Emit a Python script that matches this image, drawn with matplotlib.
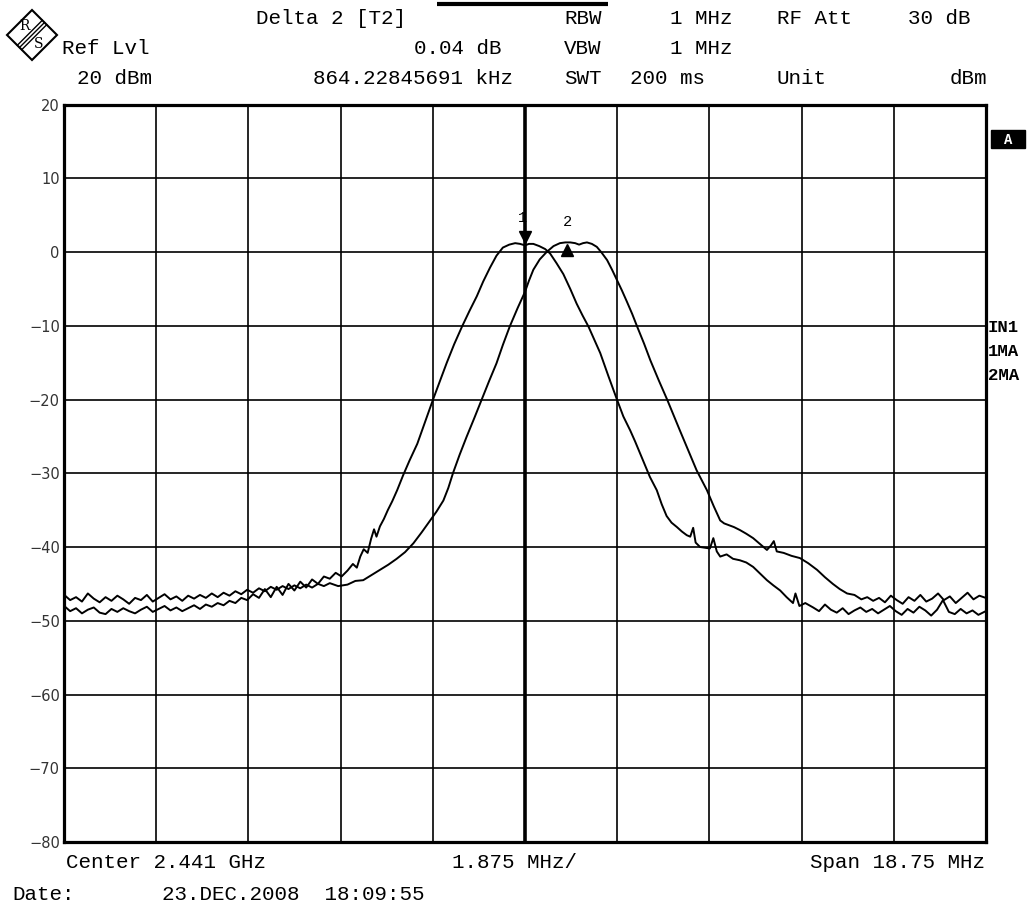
import numpy as np
import matplotlib
matplotlib.use("Agg")
import matplotlib.pyplot as plt
from matplotlib.patches import Polygon, Rectangle
from matplotlib.transforms import offset_copy

# frequency offsets from the 2.441 GHz centre, MHz
floor_left = [-9.37, -9.25, -9.13, -9.01, -8.89, -8.77, -8.65, -8.53, -8.41, -8.29,
              -8.17, -8.05, -7.93, -7.81, -7.69, -7.57, -7.45, -7.33, -7.21, -7.09,
              -6.97, -6.85, -6.73, -6.61, -6.49, -6.37, -6.25, -6.13, -6.01, -5.89,
              -5.77, -5.65, -5.53, -5.41, -5.29, -5.17, -5.05, -4.93, -4.81, -4.69,
              -4.57, -4.45, -4.33, -4.21, -4.09]

# trace 1 (1VIEW)
t1_freq = floor_left + [
    -3.97, -3.85, -3.73, -3.61, -3.50, -3.42, -3.35, -3.28, -3.20, -3.13,
    -3.07, -3.02, -2.95, -2.87, -2.79, -2.70, -2.60, -2.48, -2.35, -2.19,
    -2.03, -1.87, -1.73, -1.59, -1.44, -1.28, -1.13, -0.98, -0.85, -0.71,
    -0.58, -0.45, -0.32, -0.20, -0.10, 0.00, 0.08, 0.17, 0.29, 0.41,
    0.51, 0.64, 0.78, 0.92, 1.05, 1.17, 1.29, 1.41, 1.53, 1.70,
    1.87, 2.00, 2.14, 2.24, 2.34, 2.44, 2.54, 2.61, 2.68, 2.78,
    2.88, 2.98, 3.09, 3.19, 3.29, 3.36, 3.42, 3.47, 3.56, 3.66,
    3.76, 3.83, 3.90, 3.97, 4.10, 4.23, 4.37, 4.50, 4.64, 4.78,
    4.92, 5.05, 5.19, 5.32, 5.45, 5.50, 5.58, 5.70, 5.86,
    5.98, 6.10, 6.22, 6.34, 6.46, 6.58, 6.70, 6.82, 6.94, 7.06,
    7.18, 7.30, 7.42, 7.54, 7.66, 7.78, 7.90, 8.02, 8.14, 8.26,
    8.38, 8.50, 8.62, 8.74, 8.86, 8.98, 9.10, 9.22, 9.37]
t1_level = [
    -48.0, -48.7, -48.3, -49.0, -48.5, -48.2, -48.9, -49.1, -48.4, -48.8,
    -48.3, -48.7, -49.0, -48.5, -48.1, -48.8, -48.4, -48.0, -48.6, -48.2,
    -48.7, -48.3, -47.9, -48.4, -47.8, -48.1, -47.6, -47.9, -47.3, -47.6,
    -46.9, -47.2, -46.4, -46.9, -45.7, -46.8, -45.4, -46.5, -45.0, -45.9,
    -44.7, -45.5, -44.4, -45.0, -44.0,
    -44.3, -43.5, -44.0, -43.2, -42.3, -42.8, -41.3, -40.3, -40.8, -38.9,
    -37.6, -38.6, -37.2, -36.2, -35.0, -33.8, -32.3, -30.3, -28.3, -26.0,
    -23.0, -20.0, -17.5, -15.0, -12.5, -10.1, -8.0, -6.0, -4.0, -2.1,
    -0.5, 0.6, 1.0, 1.2, 1.1, 0.9, 1.1, 1.1, 0.8, 0.4,
    -0.2, -1.5, -3.0, -5.0, -7.0, -8.6, -10.1, -11.9, -13.7, -16.9,
    -20.0, -22.3, -24.2, -25.7, -27.3, -28.9, -30.5, -31.4, -32.3, -34.2,
    -35.8, -36.7, -37.3, -37.9, -38.4, -38.6, -37.4, -39.4, -40.0, -40.1,
    -40.2, -38.8, -40.6, -41.3, -41.0, -41.6, -41.8, -42.1, -42.7, -43.6,
    -44.5, -45.2, -45.9, -46.8, -47.6, -46.3, -48.0, -47.6, -48.2,
    -48.7, -47.8, -48.5, -48.9, -48.3, -49.1, -48.6, -48.2, -48.8, -48.4,
    -49.0, -48.5, -48.0, -48.7, -49.2, -48.4, -48.9, -48.1, -48.6, -49.3,
    -48.5, -47.2, -48.8, -49.1, -48.4, -49.0, -48.6, -49.2, -48.7]

# trace 2 (2MAX)
t2_freq = floor_left + [
    -3.97, -3.80, -3.61, -3.45, -3.29, -3.12, -2.95, -2.78, -2.61, -2.44,
    -2.27, -2.10, -1.93, -1.80, -1.66, -1.56, -1.46, -1.33, -1.19, -1.03,
    -0.88, -0.73, -0.58, -0.45, -0.31, -0.15, 0.00, 0.08, 0.17, 0.30,
    0.44, 0.58, 0.71, 0.82, 0.92, 1.02, 1.10, 1.18, 1.26, 1.36,
    1.46, 1.56, 1.67, 1.77, 1.87, 1.97, 2.07, 2.18, 2.28, 2.42,
    2.55, 2.72, 2.89, 3.02, 3.15, 3.32, 3.49, 3.60, 3.70, 3.84,
    3.97, 4.05, 4.13, 4.25, 4.37, 4.50, 4.64, 4.78, 4.92, 5.00,
    5.06, 5.12, 5.26, 5.42, 5.59, 5.76, 5.94, 6.10, 6.26, 6.40,
    6.55, 6.70, 6.84, 6.96,
    7.08, 7.20, 7.32, 7.44, 7.56, 7.68, 7.80, 7.92, 8.04, 8.16,
    8.28, 8.40, 8.52, 8.64, 8.76, 8.88, 9.00, 9.12, 9.24, 9.37]
t2_level = [
    -46.5, -47.2, -46.8, -47.4, -46.3, -47.0, -47.5, -46.8, -47.3, -46.6,
    -47.1, -47.7, -46.9, -47.2, -46.5, -47.4, -46.9, -46.4, -47.1, -46.7,
    -47.3, -46.6, -47.0, -46.5, -46.9, -46.3, -46.8, -46.2, -46.6, -46.0,
    -46.4, -45.8, -46.2, -45.6, -46.0, -45.4, -45.8, -45.3, -45.7, -45.2,
    -45.6, -45.1, -45.5, -45.0, -45.3,
    -44.9, -45.3, -45.1, -44.6, -44.5, -43.8, -43.1, -42.4, -41.6, -40.7,
    -39.5, -38.0, -36.4, -35.2, -33.7, -32.0, -29.9, -27.5, -25.1, -22.5,
    -20.0, -17.5, -15.1, -12.6, -10.1, -7.6, -5.4, -3.9, -2.4, -1.0,
    0.0, 0.8, 1.2, 1.3, 1.3, 1.2, 1.0, 1.2, 1.3, 1.1,
    0.7, -0.1, -1.1, -2.4, -3.8, -5.2, -6.7, -8.4, -10.1, -12.4,
    -14.7, -17.4, -20.0, -22.1, -24.2, -26.9, -29.6, -31.0, -32.3, -34.5,
    -36.4, -36.8, -37.0, -37.3, -37.7, -38.2, -38.8, -39.6, -40.4, -39.8,
    -39.2, -40.6, -40.8, -41.2, -41.5, -42.2, -43.1, -44.1, -45.0, -45.7,
    -46.3, -46.5, -47.1, -46.8,
    -47.3, -46.9, -47.5, -46.6, -47.2, -47.7, -46.8, -47.3, -46.5, -47.4,
    -47.0, -46.3, -47.2, -46.7, -47.6, -46.9, -46.2, -47.1, -46.6, -46.9]

marker_freq = [0.0, 0.864]
marker_level = [1.0, 1.04]
y_ticks = [20, 10, 0, -10, -20, -30, -40, -50, -60, -70, -80]

mono = "Liberation Mono"
W, H = 1027, 913
fig = plt.figure(figsize=(W / 100, H / 100), dpi=100)

# overlay in pixel coordinates for the instrument header/footer text
ov = fig.add_axes([0, 0, 1, 1])
ov.set_xlim(0, W)
ov.set_ylim(H, 0)
ov.axis("off")

ax = fig.add_axes([64 / W, 1 - 842 / H, 922 / W, 737.5 / H])
ax.set_xlim(-9.375, 9.375)
ax.set_ylim(-80, 20)
ax.set_xticks(np.linspace(-9.375, 9.375, 11))
ax.set_yticks(y_ticks)
ax.set_xticklabels([])
ax.set_yticklabels([str(v).replace("-", "\u2212") for v in y_ticks],
                   family="DejaVu Sans", fontsize=10.5, color="#333333")
ax.tick_params(length=0, pad=3)
ax.grid(True, color="black", lw=1.2)
for s in ax.spines.values():
    s.set_linewidth(2.3)
ax.axvline(0, color="black", lw=2.6, zorder=2)

ax.plot(t1_freq, t1_level, color="black", lw=1.4, zorder=3)
ax.plot(t2_freq, t2_level, color="black", lw=1.4, zorder=3)

up = offset_copy(ax.transData, fig=fig, x=0, y=5.2, units="points")
down = offset_copy(ax.transData, fig=fig, x=0, y=-3.8, units="points")
ax.plot(marker_freq[0], marker_level[0], "v", color="black", ms=8, transform=up, zorder=4)
ax.plot(marker_freq[1], marker_level[1], "^", color="black", ms=8, transform=down, zorder=4)
ax.annotate("1", (marker_freq[0], marker_level[0]), xytext=(-2, 19),
            textcoords="offset points", ha="center", va="center",
            family=mono, fontsize=11)
ax.annotate("2", (marker_freq[1], marker_level[1]), xytext=(0, 16),
            textcoords="offset points", ha="center", va="center",
            family=mono, fontsize=11)

# header
def t(x, y, s, ha="left", **kw):
    kw.setdefault("fontsize", 15)
    ov.text(x, y, s, ha=ha, va="center", family=mono, **kw)

t(256, 19, "Delta 2 [T2]")
t(564, 19, "RBW")
t(733, 19, "1 MHz", ha="right")
t(777, 19, "RF Att")
t(971, 19, "30 dB", ha="right")
t(62, 48, "Ref Lvl")
t(502, 48, "0.04 dB", ha="right")
t(564, 48, "VBW")
t(733, 48, "1 MHz", ha="right")
t(77, 78, "20 dBm")
t(513, 78, "864.22845691 kHz", ha="right")
t(564, 78, "SWT")
t(630, 78, "200 ms")
t(777, 78, "Unit")
t(987, 78, "dBm", ha="right")

# footer
t(66, 862, "Center 2.441 GHz")
t(452, 862, "1.875 MHz/")
t(985, 862, "Span 18.75 MHz", ha="right")
t(12, 895, "Date:")
t(162, 895, "23.DEC.2008  18:09:55")

# side labels
for y, s in [(352, "1VIEW"), (375, "2MAX")]:
    t(73, y, s, fontsize=12.5, weight="bold")
for y, s in [(328, "IN1"), (351, "1MA"), (375, "2MA")]:
    t(988, y, s, fontsize=12.5, weight="bold")
ov.add_patch(Rectangle((991, 130), 34, 18, color="black"))
t(1008, 139.5, "A", ha="center", fontsize=10, weight="bold", color="white")

# title underline (title itself is cut off at the top)
ov.plot([437, 608], [4.5, 4.5], color="black", lw=3, solid_capstyle="butt")

# R&S logo
ov.add_patch(Polygon([(32, 10), (57, 35), (32, 60), (7, 35)], closed=True,
                     fill=False, ec="black", lw=1.5))
for d in (-2.2, 0, 2.2):
    ov.plot([44.5 + d, 19.5 + d], [22.5 + d, 47.5 + d], color="black", lw=1.0)
ov.text(24, 26, "R", ha="center", va="center", family="DejaVu Serif", fontsize=10)
ov.text(39, 44, "S", ha="center", va="center", family="DejaVu Serif", fontsize=10)

fig.savefig("out.png", dpi=100)
